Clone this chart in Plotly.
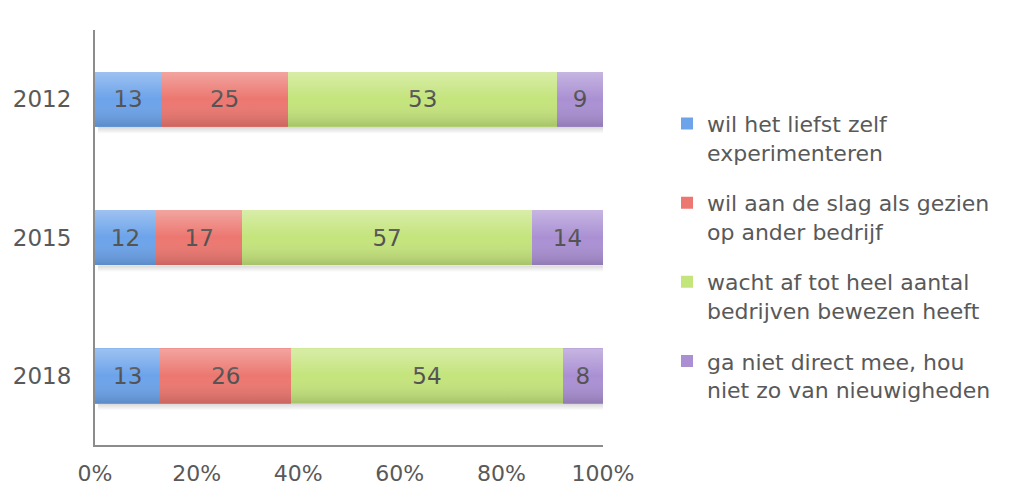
import plotly.graph_objects as go
import urllib.parse

years = ["2012", "2015", "2018"]
series_names = [
    "wil het liefst zelf<br>experimenteren",
    "wil aan de slag als gezien<br>op ander bedrijf",
    "wacht af tot heel aantal<br>bedrijven bewezen heeft",
    "ga niet direct mee, hou<br>niet zo van nieuwigheden",
]
zelf = [13, 12, 13]
gezien = [25, 17, 26]
wacht = [53, 57, 54]
niet = [9, 14, 8]
tick_vals = [0, 20, 40, 60, 80, 100]
tick_text = ["0%", "20%", "40%", "60%", "80%", "100%"]
colors = ["#6CA3EA", "#EC7770", "#C4E47C", "#AA90D3"]

BAR_W = 0.4
FONT = "DejaVu Sans"

fig = go.Figure()
for i, (name, vals, col) in enumerate(zip(series_names, [zelf, gezien, wacht, niet], colors)):
    fig.add_trace(go.Bar(
        y=years, x=vals, name=name, orientation="h",
        legendgroup=f"g{i}",
        marker=dict(color=col, line=dict(width=0)),
        text=vals, textposition="inside", insidetextanchor="middle",
        textfont=dict(family=FONT, size=23, color="#505050"),
        width=BAR_W,
    ))


def svg_uri(stops):
    s = ''.join(f'<stop offset="{o}" stop-color="{c}" stop-opacity="{a}"/>' for o, c, a in stops)
    svg = ('<svg xmlns="http://www.w3.org/2000/svg" width="10" height="100" preserveAspectRatio="none">'
           '<defs><linearGradient id="g" x1="0" y1="0" x2="0" y2="1">' + s +
           '</linearGradient></defs><rect width="10" height="100" fill="url(#g)"/></svg>')
    return "data:image/svg+xml;charset=utf-8," + urllib.parse.quote(svg)


sheen = svg_uri([(0, "#ffffff", 0.34), (0.5, "#ffffff", 0.0), (1, "#000000", 0.15)])
shadow = svg_uri([(0, "#000000", 0.16), (1, "#000000", 0.0)])
order = years[::-1]
images = []
for yr in years:
    idx = order.index(yr)
    images.append(dict(
        source=sheen, xref="x", yref="y", x=0, y=idx + BAR_W / 2,
        sizex=100, sizey=BAR_W, xanchor="left", yanchor="top",
        sizing="stretch", layer="above",
    ))
    images.append(dict(
        source=shadow, xref="x", yref="y", x=0.6, y=idx - BAR_W / 2,
        sizex=100, sizey=0.05, xanchor="left", yanchor="top",
        sizing="stretch", layer="below",
    ))

fig.update_layout(
    barmode="stack", barnorm="percent",
    width=1026, height=486,
    margin=dict(l=95, r=423, t=30, b=41, autoexpand=False),
    paper_bgcolor="white", plot_bgcolor="white",
    font=dict(family=FONT, color="#595959"),
    showlegend=True,
    images=images,
    legend=dict(
        x=1.126, xanchor="left", y=0.825, yanchor="top",
        font=dict(family=FONT, size=22, color="#595959"),
        tracegroupgap=19, valign="top", traceorder="grouped",
        itemwidth=30, bgcolor="rgba(0,0,0,0)",
    ),
    xaxis=dict(
        range=[0, 100], tickvals=tick_vals, ticktext=tick_text,
        showgrid=False, zeroline=False, automargin=False,
        showline=True, linecolor="#8C8C8C", linewidth=2,
        ticks="outside", ticklen=8, tickcolor="rgba(0,0,0,0)",
        tickfont=dict(family=FONT, size=22, color="#595959"),
    ),
    yaxis=dict(
        categoryorder="array", categoryarray=order,
        range=[-0.5, 2.5],
        showgrid=False, zeroline=False, automargin=False,
        showline=True, linecolor="#8C8C8C", linewidth=2,
        ticks="outside", ticklen=17, tickcolor="rgba(0,0,0,0)",
        tickfont=dict(family=FONT, size=23, color="#595959"),
    ),
)

fig.write_html("out.html", config={"displayModeBar": False},
               post_script="document.body.style.margin='0';")
